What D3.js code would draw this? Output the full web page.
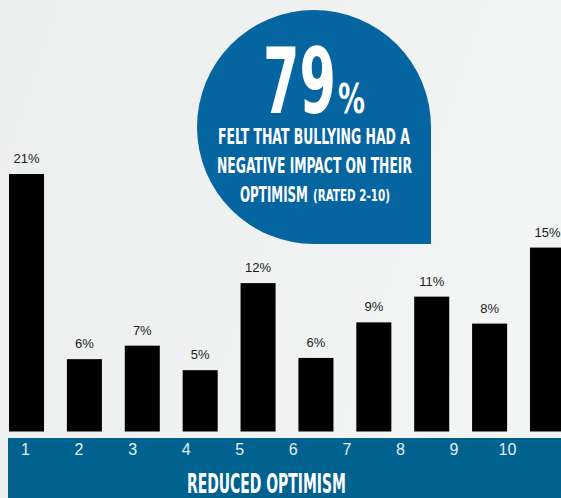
<!DOCTYPE html>
<html>
<head>
<meta charset="utf-8">
<script src="https://cdn.jsdelivr.net/npm/d3@7"></script>
<style>
  html, body { margin: 0; padding: 0; background: #eff0f0; }
  svg { display: block; }
</style>
</head>
<body>
<script>
// data
var ratings = ["1", "2", "3", "4", "5", "6", "7", "8", "9", "10"];
var shares = [21, 5.9, 7.0, 5.0, 12.1, 6.0, 8.9, 11.0, 8.8, 15.0];
var shareLabels = ["21%", "6%", "7%", "5%", "12%", "6%", "9%", "11%", "8%", "15%"];
var bigStat = "79";
var bubbleLines = ["FELT THAT BULLYING HAD A", "NEGATIVE IMPACT ON THEIR"];
var axisTitle = "REDUCED OPTIMISM";

var w = 561;
var h = 498;
var baseline = 431.5;
var condensed = "'Liberation Sans Narrow', 'DejaVu Sans Condensed', 'Roboto', sans-serif";

var svg = d3.select("body")
    .append("svg")
    .attr("width", w)
    .attr("height", h);

// soft background
var grad = svg.append("defs").append("linearGradient")
    .attr("id", "bg")
    .attr("x1", "0").attr("y1", "0").attr("x2", "1").attr("y2", "0.3");
grad.append("stop").attr("offset", "0").attr("stop-color", "#eceeee");
grad.append("stop").attr("offset", "1").attr("stop-color", "#f3f4f4");
svg.append("rect").attr("width", w).attr("height", h).attr("fill", "url(#bg)");

//Scales
var x = d3.scaleBand().domain(ratings).range([9, 565]).paddingInner(0.395).paddingOuter(0);
var y = d3.scaleLinear().domain([0, 21]).range([baseline, 174]);

//Bars
svg.selectAll("rect.bar")
    .data(shares)
    .enter()
    .append("rect")
    .attr("class", "bar")
    .attr("x", (d, i) => x(ratings[i]))
    .attr("y", d => y(d))
    .attr("width", x.bandwidth())
    .attr("height", d => baseline - y(d))
    .attr("fill", "#000");

svg.selectAll("text.val")
    .data(shares)
    .enter()
    .append("text")
    .attr("class", "val")
    .attr("x", (d, i) => x(ratings[i]) + x.bandwidth() / 2)
    .attr("y", d => y(d) - 11)
    .attr("text-anchor", "middle")
    .attr("font-family", "'Liberation Sans', Arial, sans-serif")
    .attr("font-size", 13)
    .attr("fill", "#222")
    .text((d, i) => shareLabels[i]);

//Blue band with axis
svg.append("rect")
    .attr("x", 8).attr("y", 438)
    .attr("width", w - 8).attr("height", h - 438)
    .attr("fill", "#00628f");

var xa = d3.scalePoint().domain(ratings).range([25, 507]);
var axis = svg.append("g")
    .attr("transform", "translate(0,440)")
    .call(d3.axisBottom(xa).tickSize(0).tickPadding(0));
axis.select(".domain").remove();
axis.selectAll("text")
    .attr("dy", "0.95em")
    .attr("font-family", "'Liberation Sans', Arial, sans-serif")
    .attr("font-size", 16)
    .attr("fill", "#e6eef4");

//Bubble: circle with a square bottom-right corner
var cx = 314, cy = 127, r = 117;
svg.append("path")
    .attr("d", "M" + (cx - r) + "," + cy +
        " A" + r + "," + r + " 0 0 1 " + cx + "," + (cy - r) +
        " A" + r + "," + r + " 0 0 1 " + (cx + r) + "," + cy +
        " L" + (cx + r) + "," + (cy + r) +
        " L" + cx + "," + (cy + r) +
        " A" + r + "," + r + " 0 0 1 " + (cx - r) + "," + cy + " Z")
    .attr("fill", "#0565a1");

// condensed white text: squeeze horizontally to the wanted width
function squeezed(str, x0, y0, size, len) {
    var t = svg.append("text")
        .attr("font-family", condensed)
        .attr("font-weight", 700)
        .attr("font-size", size)
        .attr("fill", "#fff")
        .text(str);
    var natural = t.node().getComputedTextLength();
    t.attr("transform", "translate(" + x0 + "," + y0 + ") scale(" + (len / natural) + ",1)");
}

squeezed(bigStat, 263, 113, 90, 73);
squeezed("%", 338, 113, 40, 27);
squeezed(bubbleLines[0], 218, 144, 22, 192);
squeezed(bubbleLines[1], 217, 173, 22, 195);
squeezed("OPTIMISM", 240, 202, 22, 68);
squeezed("(RATED 2-10)", 313, 201, 15, 77);

squeezed(axisTitle, 187, 493, 27, 159);
</script>
</body>
</html>
